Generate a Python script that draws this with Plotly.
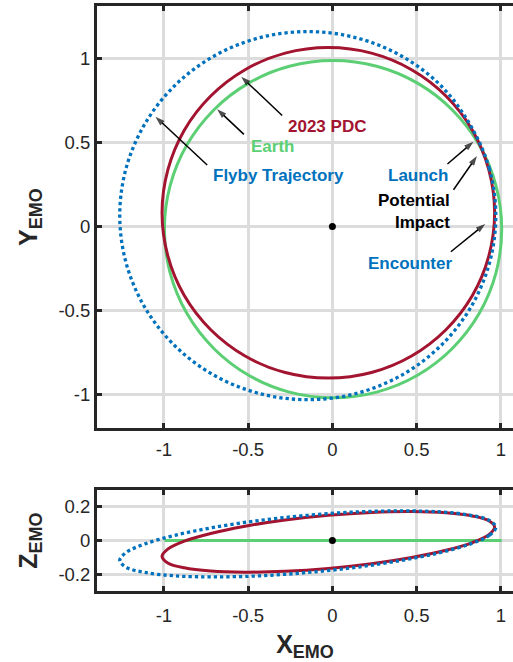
import plotly.graph_objects as go

# ---------------- data ----------------
# Earth orbit (EMO plane, z = 0)
earth_x = [1.005, 0.971, 0.871, 0.712, 0.505, 0.263, 0.004, -0.255, -0.497, -0.704, -0.863, -0.963,
           -0.997, -0.963, -0.863, -0.704, -0.497, -0.255, 0.004, 0.263, 0.505, 0.712, 0.871, 0.971]
earth_y = [-0.016, 0.243, 0.485, 0.692, 0.851, 0.951, 0.985, 0.951, 0.851, 0.692, 0.485, 0.243,
           -0.016, -0.275, -0.517, -0.724, -0.883, -0.983, -1.017, -0.983, -0.883, -0.724, -0.517, -0.275]
earth_z = [0.0] * 24

# 2023 PDC orbit
pdc_x = [0.963, 0.929, 0.831, 0.674, 0.470, 0.232, -0.024, -0.280, -0.518, -0.722, -0.879, -0.977,
         -1.011, -0.977, -0.879, -0.722, -0.518, -0.280, -0.024, 0.232, 0.470, 0.674, 0.831, 0.929]
pdc_y = [0.081, 0.335, 0.572, 0.775, 0.931, 1.029, 1.062, 1.029, 0.931, 0.775, 0.572, 0.335,
         0.081, -0.173, -0.410, -0.613, -0.769, -0.867, -0.900, -0.867, -0.769, -0.613, -0.410, -0.173]
pdc_z = [0.079, 0.035, -0.012, -0.058, -0.101, -0.138, -0.166, -0.183, -0.188, -0.181, -0.162, -0.133,
         -0.095, -0.051, -0.004, 0.042, 0.085, 0.122, 0.150, 0.167, 0.172, 0.165, 0.146, 0.117]

# Flyby trajectory
fly_x = [0.970, 0.932, 0.820, 0.643, 0.412, 0.143, -0.146, -0.435, -0.704, -0.935, -1.112, -1.224,
         -1.262, -1.224, -1.112, -0.935, -0.704, -0.435, -0.146, 0.143, 0.412, 0.643, 0.820, 0.932]
fly_y = [0.065, 0.342, 0.600, 0.837, 1.011, 1.120, 1.157, 1.120, 1.011, 0.837, 0.611, 0.347,
         0.065, -0.218, -0.482, -0.708, -0.882, -0.991, -1.028, -0.991, -0.882, -0.708, -0.482, -0.218]
fly_z = [0.078, 0.031, -0.020, -0.071, -0.118, -0.159, -0.190, -0.210, -0.216, -0.210, -0.190, -0.159,
         -0.118, -0.071, -0.020, 0.031, 0.078, 0.119, 0.150, 0.170, 0.176, 0.170, 0.150, 0.119]

sun_x = [0.0]
sun_y = [0.0]
sun_z = [0.0]

xy_ticks = [-1, -0.5, 0, 0.5, 1]
xy_ticktext = ["-1", "-0.5", "0", "0.5", "1"]
z_ticks = [-0.2, 0, 0.2]
z_ticktext = ["-0.2", "0", "0.2"]

labels = ["2023 PDC", "Earth", "Flyby Trajectory", "Launch", "Potential<br>Impact", "Encounter"]

# ---------------- styling ----------------
RED = "#A2142F"
BLUE = "#0072BD"
GREEN = "#5CCF74"
AX = "#262626"
GRID = "#DCDCDC"
FONT = "Arial, Liberation Sans, sans-serif"


def closed(v):
    return list(v) + [v[0]]


def axis_title(letter):
    return ("<span style='font-size:25px'>" + letter + "</span>"
            "<sub><span style='font-size:18px'>EMO</span></sub>")


fig = go.Figure()

# top: X-Y view
fig.add_trace(go.Scatter(x=closed(earth_x), y=closed(earth_y), mode="lines", line=dict(color=GREEN, width=3, shape="spline"), xaxis="x", yaxis="y"))
fig.add_trace(go.Scatter(x=closed(pdc_x), y=closed(pdc_y), mode="lines", line=dict(color=RED, width=3, shape="spline"), xaxis="x", yaxis="y"))
fig.add_trace(go.Scatter(x=closed(fly_x), y=closed(fly_y), mode="lines", line=dict(color=BLUE, width=3.3, shape="spline", dash="3.3px,3px"), xaxis="x", yaxis="y"))
fig.add_trace(go.Scatter(x=sun_x, y=sun_y, mode="markers", marker=dict(color="black", size=7), xaxis="x", yaxis="y"))

# bottom: X-Z view
fig.add_trace(go.Scatter(x=closed(earth_x), y=closed(earth_z), mode="lines", line=dict(color=GREEN, width=3), xaxis="x2", yaxis="y2"))
fig.add_trace(go.Scatter(x=closed(pdc_x), y=closed(pdc_z), mode="lines", line=dict(color=RED, width=3, shape="spline"), xaxis="x2", yaxis="y2"))
fig.add_trace(go.Scatter(x=closed(fly_x), y=closed(fly_z), mode="lines", line=dict(color=BLUE, width=3.3, shape="spline", dash="3.3px,3px"), xaxis="x2", yaxis="y2"))
fig.add_trace(go.Scatter(x=sun_x, y=sun_z, mode="markers", marker=dict(color="black", size=7), xaxis="x2", yaxis="y2"))

# annotation layout (text anchor points and arrows, in top-plot data units)
text_pos = [(-0.031, 0.596, "center"), (-0.357, 0.474, "center"), (-0.319, 0.300, "center"),
            (0.506, 0.300, "center"), (0.709, 0.092, "right"), (0.459, -0.218, "center")]
text_col = [RED, GREEN, BLUE, BLUE, "black", BLUE]
arrows = [((-0.298, 0.659), (-0.541, 0.889)),
          ((-0.525, 0.547), (-0.684, 0.696)),
          ((-0.743, 0.365), (-1.050, 0.652)),
          ((0.683, 0.371), (0.837, 0.503)),
          ((0.719, 0.218), (0.858, 0.418)),
          ((0.703, -0.150), (0.907, 0.015))]

# arrows: line from tail to head with an arrowhead marker at the head
for (tail, head) in arrows:
    fig.add_trace(go.Scatter(
        x=[tail[0], head[0]], y=[tail[1], head[1]], mode="lines+markers",
        line=dict(color="black", width=1.5),
        marker=dict(symbol=["circle", "arrow"], size=[0, 10], color="black",
                    angleref="previous", line=dict(width=0)),
        xaxis="x", yaxis="y", hoverinfo="skip"))

axis_common = dict(
    showline=True, linewidth=3, linecolor=AX,
    ticks="inside", ticklen=5, tickwidth=3, tickcolor=AX,
    showgrid=True, gridcolor=GRID, gridwidth=2.5, zeroline=False,
    tickfont=dict(family=FONT, size=18.5, color=AX),
)
title_font = dict(family=FONT, size=25, color=AX, weight="bold")

fig.update_layout(
    width=513, height=662,
    margin=dict(l=97, r=0, t=6, b=71),
    paper_bgcolor="white", plot_bgcolor="white",
    showlegend=False,
    xaxis=dict(domain=[0, 1], anchor="y", range=[-1.397, 1.072], tickvals=xy_ticks, ticktext=xy_ticktext,
               mirror="ticks", ticklabelstandoff=2, **axis_common),
    yaxis=dict(domain=[0.2781, 1], anchor="x", range=[-1.198, 1.309], tickvals=xy_ticks, ticktext=xy_ticktext,
               title=dict(text=axis_title("Y"), font=title_font, standoff=14), **axis_common),
    xaxis2=dict(domain=[0, 1], anchor="y2", range=[-1.397, 1.072], tickvals=xy_ticks, ticktext=xy_ticktext,
                mirror="ticks", ticklabelstandoff=6,
                title=dict(text=axis_title("X"), font=title_font, standoff=11), **axis_common),
    yaxis2=dict(domain=[0, 0.1726], anchor="x2", range=[-0.3, 0.3], tickvals=z_ticks, ticktext=z_ticktext,
                title=dict(text=axis_title("Z"), font=title_font, standoff=14), **axis_common),
)

for (tx, ty, anc), lab, col in zip(text_pos, labels, text_col):
    fig.add_annotation(x=tx, y=ty, xref="x", yref="y", text=lab, showarrow=False,
                       xanchor=anc, yanchor="middle", align=anc,
                       font=dict(family=FONT, size=17, color=col, weight="bold"))

fig.write_html("out.html")
